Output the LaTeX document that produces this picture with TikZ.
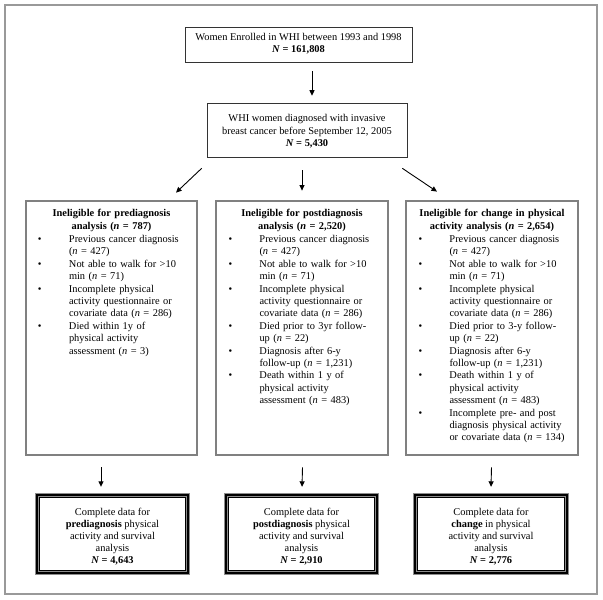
\documentclass[tikz,border=0pt]{standalone}
\usepackage{fontspec}
\setmainfont{Liberation Serif}
\usepackage{array}
\usetikzlibrary{arrows.meta}
\newcommand{\bl}{\textbullet}
\newcolumntype{L}[1]{>{\raggedright\arraybackslash}p{#1}}
\begin{document}
\begin{tikzpicture}[x=1pt,y=-1pt,
  every node/.style={font=\fontsize{10.4}{12.4}\selectfont},
  frame/.style={draw=black!40,line width=1.3pt},
  topbox/.style={draw=black!80,line width=0.6pt,inner sep=0pt},
  lbl/.style={align=center,inner sep=0pt},
  colbox/.style={draw=black,double=black!50,double distance=1.2pt,line width=0.8pt,inner sep=0pt},
  coltext/.style={anchor=north,text width=165pt,inner sep=0pt,align=left},
  botbox/.style={draw=black,line width=2.4pt,preaction={draw=black!45,line width=4pt},inner sep=0pt},
  botlbl/.style={align=center,inner sep=0pt,font=\fontsize{10.4}{11.9}\selectfont},
  inner/.style={draw=black,line width=0.6pt},
  arr/.style={draw=black,line width=0.9pt,-{Triangle[length=5.5pt,width=5pt]}}
]
\useasboundingbox (0,0) rectangle (603,600);
\draw[frame] (5,5) rectangle (597,594);

\node[topbox,minimum width=227pt,minimum height=35pt] (top) at (298.5,44.5) {};
\node[lbl] (topt) at ([yshift=1pt]top.center)
  {Women Enrolled in WHI between 1993 and 1998\\\textbf{\textit{N} = 161,808}};
\node[topbox,minimum width=200pt,minimum height=54pt] (wc) at (307,130) {};
\node[lbl] (wct) at ([yshift=-1.5pt]wc.center)
  {WHI women diagnosed with invasive\\breast cancer before September 12, 2005\\\textbf{\textit{N} = 5,430}};

\node[colbox,minimum width=171pt,minimum height=254pt] (p1) at (111.5,328) {};
\node[colbox,minimum width=172pt,minimum height=254pt] (p2) at (302,328) {};
\node[colbox,minimum width=172pt,minimum height=254pt] (p3) at (492,328) {};

\node[coltext] (p1t) at ([yshift=-8.5pt]p1.north) {%
{\centering\textbf{Ineligible for prediagnosis\\analysis (\textit{n} = 787)}\par}\vspace{1.5pt}
\begin{tabular}{@{\hspace{9pt}}L{31pt}@{}L{130pt}@{}}
\bl & Previous cancer diagnosis\newline (\textit{n} = 427)\\
\bl & Not able to walk for >10\newline min (\textit{n} = 71)\\
\bl & Incomplete physical\newline activity questionnaire or\newline covariate data (\textit{n} = 286)\\
\bl & Died within 1y of\newline physical activity\newline assessment (\textit{n} = 3)
\end{tabular}};

\node[coltext] (p2t) at ([yshift=-8.5pt]p2.north) {%
{\centering\textbf{Ineligible for postdiagnosis\\analysis (\textit{n} = 2,520)}\par}\vspace{1.5pt}
\begin{tabular}{@{\hspace{9pt}}L{31pt}@{}L{130pt}@{}}
\bl & Previous cancer diagnosis\newline (\textit{n} = 427)\\
\bl & Not able to walk for >10\newline min (\textit{n} = 71)\\
\bl & Incomplete physical\newline activity questionnaire or\newline covariate data (\textit{n} = 286)\\
\bl & Died prior to 3yr follow-\newline up (\textit{n} = 22)\\
\bl & Diagnosis after 6-y\newline follow-up (\textit{n} = 1,231)\\
\bl & Death within 1 y of\newline physical activity\newline assessment (\textit{n} = 483)
\end{tabular}};

\node[coltext] (p3t) at ([yshift=-8.5pt]p3.north) {%
{\centering\textbf{Ineligible for change in physical\\activity analysis (\textit{n} = 2,654)}\par}\vspace{1.5pt}
\begin{tabular}{@{\hspace{9pt}}L{31pt}@{}L{130pt}@{}}
\bl & Previous cancer diagnosis\newline (\textit{n} = 427)\\
\bl & Not able to walk for >10\newline min (\textit{n} = 71)\\
\bl & Incomplete physical\newline activity questionnaire or\newline covariate data (\textit{n} = 286)\\
\bl & Died prior to 3-y follow-\newline up (\textit{n} = 22)\\
\bl & Diagnosis after 6-y\newline follow-up (\textit{n} = 1,231)\\
\bl & Death within 1 y of\newline physical activity\newline assessment (\textit{n} = 483)\\
\bl & Incomplete pre- and post\newline diagnosis physical activity\newline or covariate data (\textit{n} = 134)
\end{tabular}};

\node[botbox,minimum width=151pt,minimum height=78pt] (q1) at (112.5,534) {};
\node[botbox,minimum width=151pt,minimum height=78pt] (q2) at (301.5,534) {};
\node[botbox,minimum width=152pt,minimum height=78pt] (q3) at (491,534) {};
\foreach \q in {q1,q2,q3}
  \draw[inner] ([shift={(3.6pt,-3.6pt)}]\q.north west) rectangle ([shift={(-3.6pt,3.6pt)}]\q.south east);
\node[botlbl] (q1t) at ([yshift=-2.5pt]q1.center)
  {Complete data for\\\textbf{prediagnosis} physical\\activity and survival\\analysis\\\textbf{\textit{N} = 4,643}};
\node[botlbl] (q2t) at ([yshift=-2.5pt]q2.center)
  {Complete data for\\\textbf{postdiagnosis} physical\\activity and survival\\analysis\\\textbf{\textit{N} = 2,910}};
\node[botlbl] (q3t) at ([yshift=-2.5pt]q3.center)
  {Complete data for\\\textbf{change} in physical\\activity and survival\\analysis\\\textbf{\textit{N} = 2,776}};

\draw[arr] ([xshift=13.5pt,yshift=-9pt]top.south) -- ([xshift=5pt,yshift=7pt]wc.north);
\draw[arr] ([xshift=-5pt,yshift=-11pt]wc.south west) -- ([xshift=64.5pt,yshift=8pt]p1.north);
\draw[arr] ([xshift=-5pt,yshift=-13pt]wc.south) -- ([yshift=10pt]p2.north);
\draw[arr] ([xshift=-5pt,yshift=-11pt]wc.south east) -- ([xshift=-55pt,yshift=9pt]p3.north);
\draw[arr] ([xshift=-10.5pt,yshift=-12pt]p1.south) -- ([xshift=-11.5pt,yshift=7pt]q1.north);
\draw[arr] ([xshift=0.5pt,yshift=-12pt]p2.south) -- ([xshift=0.5pt,yshift=7pt]q2.north);
\draw[arr] ([xshift=-0.5pt,yshift=-12pt]p3.south) -- ([yshift=7pt]q3.north);
\end{tikzpicture}
\end{document}
